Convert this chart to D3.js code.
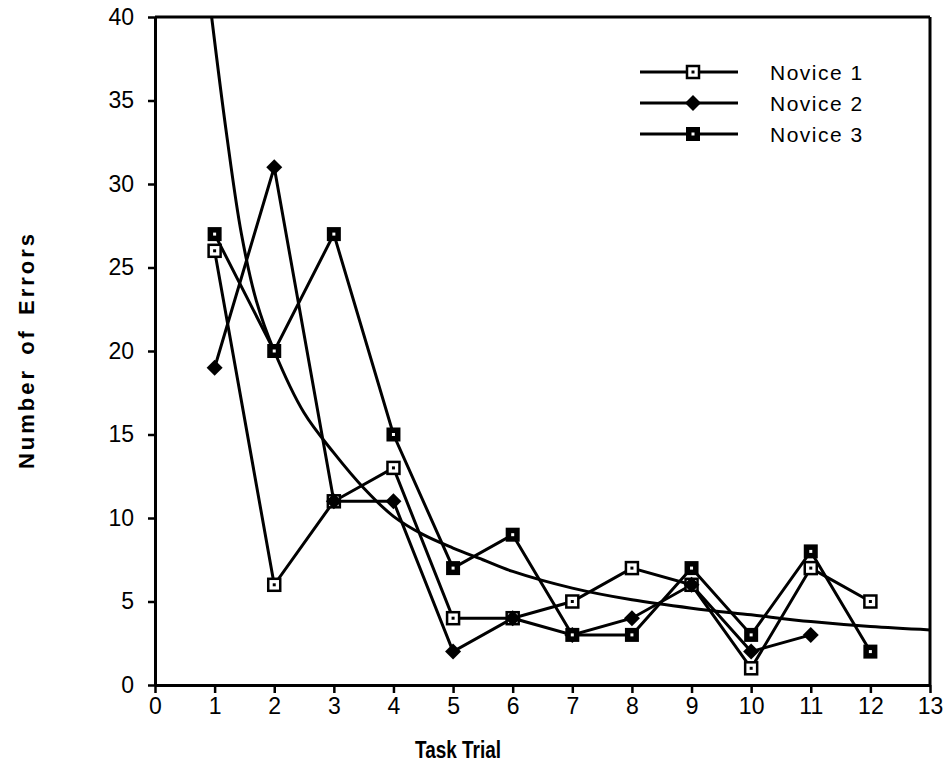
<!DOCTYPE html>
<html>
<head>
<meta charset="utf-8">
<script src="https://d3js.org/d3.v7.min.js"></script>
<style>
  body { margin: 0; background: #fff; }
  text { font-family: "Liberation Sans", Arial, sans-serif; fill: #000; }
</style>
</head>
<body>
<script>
//trial numbers and errors per novice
var trials = [1, 2, 3, 4, 5, 6, 7, 8, 9, 10, 11, 12];
var novice1 = [26, 6, 11, 13, 4, 4, 5, 7, 6, 1, 7, 5];
var novice2 = [19, 31, 11, 11, 2, 4, 3, 4, 6, 2, 3];
var novice3 = [27, 20, 27, 15, 7, 9, 3, 3, 7, 3, 8, 2];

//fitted learning curve
var curveX = [0.95, 1.2, 1.45, 1.7, 2, 2.5, 3, 3.5, 4, 4.5, 5, 5.5, 6, 7, 8, 9, 10, 11, 12, 13];
var curveY = [40, 33, 27, 23, 20, 16.3, 13.9, 11.8, 10.1, 9.0, 8.2, 7.5, 6.8, 5.8, 5.1, 4.6, 4.2, 3.8, 3.5, 3.3];

//tick labels
var xTicks = [0, 1, 2, 3, 4, 5, 6, 7, 8, 9, 10, 11, 12, 13];
var yTicks = [0, 5, 10, 15, 20, 25, 30, 35, 40];

var seriesNames = ["Novice 1", "Novice 2", "Novice 3"];
var seriesMarks = ["open", "diamond", "bold"];

window.onload = function(){
    var width = 944, height = 781;

    var svg = d3.select("body")
        .append("svg")
        .attr("width", width)
        .attr("height", height);

    //scales
    var x = d3.scaleLinear().domain([0, 13]).range([155, 930]);
    var y = d3.scaleLinear().domain([0, 40]).range([685, 17]);

    //y axis
    svg.append("g")
        .attr("class", "yaxis")
        .attr("transform", "translate(" + x(0) + ",0)")
        .call(d3.axisLeft(y).tickValues(yTicks).tickSize(7).tickSizeOuter(0).tickPadding(14));

    //x axis
    svg.append("g")
        .attr("class", "xaxis")
        .attr("transform", "translate(0," + y(0) + ")")
        .call(d3.axisBottom(x).tickValues(xTicks).tickSize(8).tickSizeOuter(0).tickPadding(5));

    svg.selectAll(".domain").attr("stroke", "#000").attr("stroke-width", 3);
    svg.selectAll(".tick line").attr("stroke", "#000").attr("stroke-width", 2.5);
    svg.selectAll(".tick text")
        .attr("font-size", 23)
        .attr("font-family", "'Liberation Sans', Arial, sans-serif")
        .attr("fill", "#000");

    //box: top and right edges
    svg.append("line")
        .attr("x1", x(0)).attr("x2", x(13))
        .attr("y1", y(40)).attr("y2", y(40))
        .attr("stroke", "#000").attr("stroke-width", 3);
    svg.append("line")
        .attr("x1", x(13)).attr("x2", x(13))
        .attr("y1", y(40)).attr("y2", y(0))
        .attr("stroke", "#000").attr("stroke-width", 3);

    //axis titles (squeezed to the narrow bold face of the original)
    svg.append("text")
        .attr("x", 415).attr("y", 758)
        .attr("textLength", 86)
        .attr("lengthAdjust", "spacingAndGlyphs")
        .style("font-size", "23px")
        .style("font-weight", "bold")
        .text("Task Trial");

    svg.append("text")
        .attr("transform", "translate(34,350) rotate(-90)")
        .attr("text-anchor", "middle")
        .style("font-size", "22px")
        .style("font-weight", "bold")
        .style("word-spacing", "4px")
        .style("letter-spacing", "3px")
        .text("Number of Errors");

    //fitted curve
    var curvePts = curveX.map(function(d, i){ return [d, curveY[i]]; });
    svg.append("path")
        .datum(curvePts)
        .attr("fill", "none")
        .attr("stroke", "#000")
        .attr("stroke-width", 3)
        .attr("d", d3.line()
            .x(function(d){ return x(d[0]); })
            .y(function(d){ return y(d[1]); })
            .curve(d3.curveCatmullRom));

    var line = d3.line()
        .x(function(d){ return x(d[0]); })
        .y(function(d){ return y(d[1]); });

    var allSeries = [novice1, novice2, novice3].map(function(vals){
        return vals.map(function(v, i){ return [trials[i], v]; });
    });

    //series lines
    allSeries.forEach(function(pts){
        svg.append("path")
            .datum(pts)
            .attr("fill", "none")
            .attr("stroke", "#000")
            .attr("stroke-width", 3)
            .attr("d", line);
    });

    //marker drawing helper
    function drawMark(g, type, cx, cy){
        if (type == "open") {
            g.append("rect")
                .attr("x", cx - 6).attr("y", cy - 6)
                .attr("width", 12).attr("height", 12)
                .attr("fill", "#fff").attr("stroke", "#000").attr("stroke-width", 2.5);
            g.append("rect")
                .attr("x", cx - 1.5).attr("y", cy - 1.5)
                .attr("width", 3).attr("height", 3)
                .attr("fill", "#000");
        } else if (type == "diamond") {
            g.append("path")
                .attr("d", "M" + cx + "," + (cy - 8) + "L" + (cx + 8) + "," + cy +
                    "L" + cx + "," + (cy + 8) + "L" + (cx - 8) + "," + cy + "Z")
                .attr("fill", "#000");
        } else {
            g.append("rect")
                .attr("x", cx - 7).attr("y", cy - 7)
                .attr("width", 14).attr("height", 14)
                .attr("fill", "#000");
            g.append("rect")
                .attr("x", cx - 1.5).attr("y", cy - 1.5)
                .attr("width", 3).attr("height", 3)
                .attr("fill", "#fff");
        }
    }

    //series markers
    var marks = svg.append("g");
    allSeries.forEach(function(pts, s){
        pts.forEach(function(p){
            drawMark(marks, seriesMarks[s], x(p[0]), y(p[1]));
        });
    });

    //legend
    var legend = svg.append("g");
    seriesNames.forEach(function(name, i){
        var ly = 72 + i * 31;
        legend.append("line")
            .attr("x1", 640).attr("x2", 738)
            .attr("y1", ly).attr("y2", ly)
            .attr("stroke", "#000").attr("stroke-width", 3);
        drawMark(legend, seriesMarks[i], 693, ly);
        legend.append("text")
            .attr("x", 770).attr("y", ly + 8)
            .style("font-size", "21px")
            .style("letter-spacing", "1.5px")
            .text(name);
    });
};
</script>
</body>
</html>
